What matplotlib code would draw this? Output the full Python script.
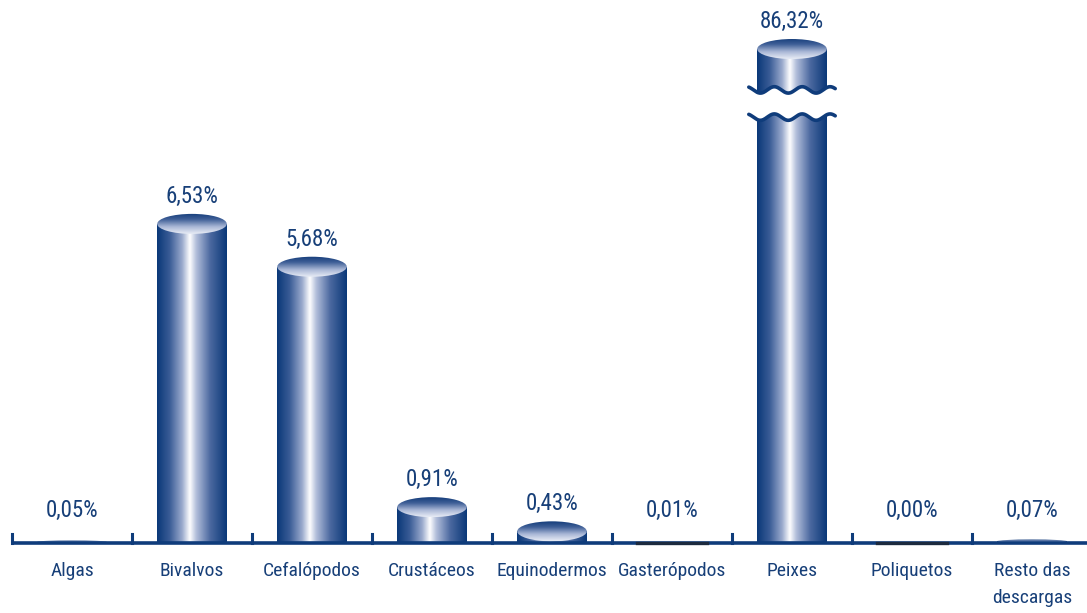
import numpy as np
import matplotlib
matplotlib.use("Agg")
import matplotlib.pyplot as plt
from matplotlib.colors import LinearSegmentedColormap
from matplotlib.patches import Rectangle, Ellipse, Polygon

plt.rcParams['font.family'] = ['Liberation Sans Narrow', 'Arimo Narrow', 'Roboto Condensed',
                               'Archivo Narrow', 'DejaVu Sans']

categories = ["Algas", "Bivalvos", "Cefalópodos", "Crustáceos", "Equinodermos",
              "Gasterópodos", "Peixes", "Poliquetos", "Resto das\ndescargas"]
values = [0.05, 6.53, 5.68, 0.91, 0.43, 0.01, 86.32, 0.00, 0.07]
value_labels = ["0,05%", "6,53%", "5,68%", "0,91%", "0,43%", "0,01%", "86,32%", "0,00%", "0,07%"]

# broken bar: values above this are drawn cut off
CAP = 10.0
BREAK_LO, BREAK_HI = 8.45, 8.99

NAVY = "#0f3c7b"
TEXT = "#173f78"

W, H = 1087, 613
PX = 50.4  # pixels per 1 %
fig = plt.figure(figsize=(W / 100, H / 100), dpi=100)
ax = fig.add_axes([0, 0, 1, 1])
ax.set_xlim(-0.6, (W - 72) / 120)
ax.set_ylim(-(H - 543) / PX, 543 / PX)
ax.axis("off")

body_cmap = LinearSegmentedColormap.from_list("body", [
    (0.0, "#0a3878"), (0.18, "#3a5c96"), (0.36, "#9aaacd"), (0.47, "#ffffff"),
    (0.56, "#b3bfdb"), (0.76, "#4c69a0"), (1.0, "#0a3878")])
cap_cmap = LinearSegmentedColormap.from_list("cap", [
    (0.0, "#e9edf6"), (0.35, "#a9b7d6"), (0.7, "#3f5f97"), (1.0, "#133c7a")])

bw = 0.58
ry = 10 / PX  # half height of the top ellipse
grad_h = np.linspace(0, 1, 256).reshape(1, -1)
grad_v = np.linspace(0, 1, 256).reshape(-1, 1)

for i, (v, lab) in enumerate(zip(values, value_labels)):
    h = min(v, CAP)
    x0 = i - bw / 2
    if v < 0.02:
        # near-zero values only leave a dark line on the axis
        ax.plot([x0, x0 + bw], [0.0, 0.0], color="#1c2a3e", lw=2.4, zorder=7)
    else:
        eh = min(2 * ry, h)
        body_top = h - eh / 2
        if body_top > 0:
            rect = Rectangle((x0, 0), bw, body_top, transform=ax.transData)
            im = ax.imshow(grad_h, cmap=body_cmap, extent=[x0, x0 + bw, 0, body_top],
                           aspect="auto", zorder=2, interpolation="bicubic")
            im.set_clip_path(rect)
        ell = Ellipse((i, h - eh / 2), bw, eh)
        ell.set_transform(ax.transData)
        im2 = ax.imshow(grad_v, cmap=cap_cmap, origin="lower",
                        extent=[x0, x0 + bw, h - eh, h], aspect="auto", zorder=3,
                        interpolation="bicubic")
        im2.set_clip_path(ell)
    ly = max(h, 0.3) + 6 / PX
    ax.text(i, ly, lab, ha="center", va="bottom", fontsize=16.5, color=TEXT)

# wavy break on the capped bar
for i, v in enumerate(values):
    if v > CAP:
        xs = np.linspace(i - bw / 2 - 0.07, i + bw / 2 + 0.07, 200)
        amp = 3.2 / PX
        t = (xs - xs[0]) / (xs[-1] - xs[0])
        wave = amp * np.sin(2 * np.pi * 3.1 * t + 2.1)
        top = BREAK_HI + wave
        bot = BREAK_LO + wave
        poly = np.vstack([np.column_stack([xs, bot]), np.column_stack([xs[::-1], top[::-1]])])
        ax.add_patch(Polygon(poly, closed=True, facecolor="white", edgecolor="none", zorder=4))
        ax.plot(xs, top, color=NAVY, lw=2.6, zorder=5, solid_capstyle="round")
        ax.plot(xs, bot, color=NAVY, lw=2.6, zorder=5, solid_capstyle="round")

# baseline with upward ticks between categories
ax.plot([-0.5, 9], [0, 0], color=NAVY, lw=2.6, zorder=6, solid_capstyle="butt")
for tk in np.arange(-0.5, len(categories), 1.0):
    ax.plot([tk, tk], [0, 9 / PX], color=NAVY, lw=2.2, zorder=6)

for i, c in enumerate(categories):
    ax.text(i, -19 / PX, c, ha="center", va="top", fontsize=14, color=TEXT,
            linespacing=1.65)

fig.savefig("out.png", dpi=100)
